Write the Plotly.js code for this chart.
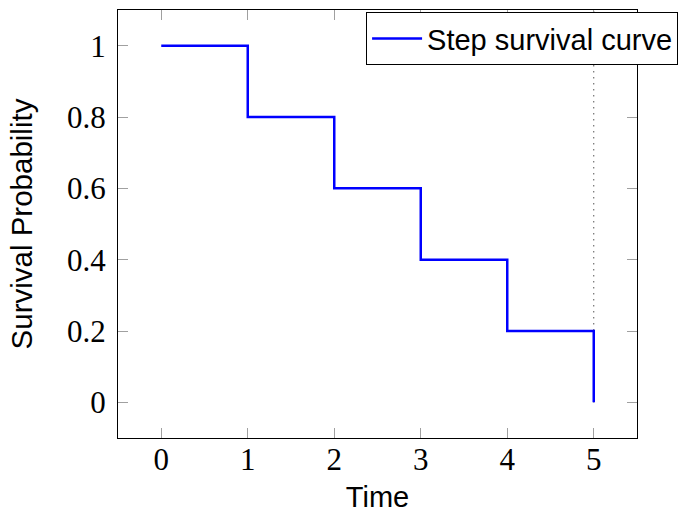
<!DOCTYPE html>
<html>
<head>
<meta charset="utf-8">
<script src="https://cdn.plot.ly/plotly-3.0.1.min.js"></script>
<style>html,body{margin:0;padding:0;background:#fff;}#chart{width:681px;height:513px;}</style>
</head>
<body>
<div id="chart"></div>
<script>
const times = [0, 1, 2, 3, 4, 5];
const survival = [1, 0.8, 0.6, 0.4, 0.2, 0];
const markerTime = [5, 5];
const markerSpan = [0, 1.1];
const xTicks = [0, 1, 2, 3, 4, 5];
const yTicks = [0, 0.2, 0.4, 0.6, 0.8, 1];
const yTickLabels = ['0', '0.2', '0.4', '0.6', '0.8', '1'];

const traces = [
  {
    x: markerTime, y: markerSpan, mode: 'lines', showlegend: false, hoverinfo: 'skip',
    line: {color: '#000', width: 1, dash: '1px,5px'}
  },
  {
    x: times, y: survival, mode: 'lines', name: 'Step survival curve',
    line: {color: '#0000ff', width: 2.5, shape: 'hv'}
  }
];

const axisCommon = {
  showgrid: false, zeroline: false, showline: true, linecolor: '#000', linewidth: 1,
  mirror: 'ticks', ticks: 'inside', ticklen: 10, tickcolor: '#a0a0a0', tickwidth: 1,
  tickfont: {family: 'Liberation Serif, Times New Roman, serif', size: 31, color: '#000'}
};

const layout = {
  width: 681, height: 513,
  paper_bgcolor: '#fff', plot_bgcolor: '#fff',
  margin: {l: 118, r: 44, t: 10, b: 75, autoexpand: false},
  xaxis: Object.assign({}, axisCommon, {
    range: [-0.5, 5.5], tickvals: xTicks, ticklabelstandoff: -6,
    title: {text: 'Time', font: {family: 'Liberation Sans, Arial, sans-serif', size: 29, color: '#000'}, standoff: 13}
  }),
  yaxis: Object.assign({}, axisCommon, {
    range: [-0.1, 1.1], tickvals: yTicks, ticktext: yTickLabels, ticklabelstandoff: 5,
    title: {text: 'Survival Probability', font: {family: 'Liberation Sans, Arial, sans-serif', size: 29.5, color: '#000'}, standoff: 25}
  }),
  showlegend: true,
  legend: {
    x: 0.478, y: 0.995, xanchor: 'left', yanchor: 'top', itemwidth: 50,
    bgcolor: '#fff', bordercolor: '#000', borderwidth: 1,
    font: {family: 'Liberation Sans, Arial, sans-serif', size: 29, color: '#000'}
  }
};

Plotly.newPlot('chart', traces, layout, {staticPlot: true, displayModeBar: false});
</script>
</body>
</html>
